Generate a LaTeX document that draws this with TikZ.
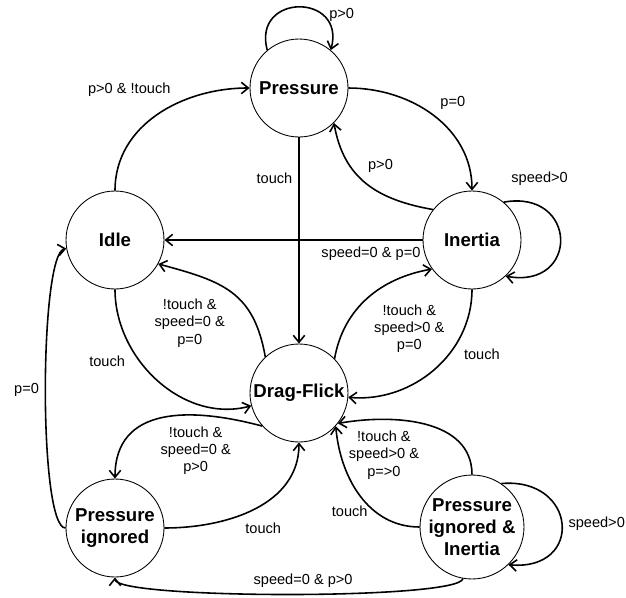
\documentclass[tikz,border=0pt]{standalone}
\usepackage{fontspec}
\setmainfont{Liberation Sans}
\usetikzlibrary{automata}
\usetikzlibrary{positioning}
\usetikzlibrary{arrows.meta}
\tikzset{node distance=3.05cm,
    every node/.style={
        font=\fontsize{8.3}{9.8}\selectfont,
        align=center},
    every state/.style={
        line width=0.5pt,
        fill=white,
        minimum size=1.96cm,
        inner sep=0pt,
        font=\fontsize{10.6}{12.5}\selectfont\bfseries},
    every edge/.style={
        draw,
        ->,>={Straight Barb[length=4pt,width=6.5pt]},
        auto,
        line width=0.9pt}}

\begin{document}
\begin{tikzpicture}
        \useasboundingbox (0,0) rectangle (12.52,-11.94);

        \node[state] (pressure) at (5.98,-1.76) {Pressure};
        \node[state,node distance=6.1cm,below of=pressure] (dragflick) {Drag-Flick};
        \node[state,node distance=3.68cm,left of=pressure,yshift=-3.04cm] (idle) {Idle};
        \node[state,node distance=3.46cm,right of=pressure,yshift=-3.04cm] (inertia) {Inertia};
        \node[state,node distance=5.76cm,below of=idle] (ignored) {Pressure\\ignored};
        \node[state,node distance=5.74cm,below of=inertia] (ignoredinertia) {Pressure\\ignored \&\\Inertia};

        \draw (pressure.130) edge[out=105,in=75,looseness=2.4] node[pos=0.72,right] {p>0} (pressure.50);
        \draw (idle) edge[out=90,in=180] node[pos=0.62] {p>0 \& !touch} (pressure);
        \draw (pressure) edge[out=0,in=90] node {p=0} (inertia);
        \draw (inertia.142) edge[out=170,in=-80,looseness=1.1] node[pos=0.55,swap] {p>0} (pressure.-45);
        \draw (inertia.50) edge[out=10,in=-10,looseness=2.6] node[pos=0.2,above=8pt] {speed>0} (inertia.-47);
        \draw (inertia) edge node[pos=0.2] {speed=0 \& p=0} (idle);
        \draw (pressure) edge node[pos=0.2,swap] {touch} (dragflick);

        \draw (dragflick.133) edge[out=100,in=-15,looseness=1.2] node {!touch \&\\speed=0 \&\\p=0} (idle.-29);
        \draw (idle) edge[out=-90,in=195] node[pos=0.3,swap] {touch} (dragflick);
        \draw (dragflick.44) edge[out=80,in=190] node[swap] {!touch \&\\speed>0 \&\\p=0} (inertia.216);
        \draw (inertia) edge[out=-90,in=-5] node[pos=0.3] {touch} (dragflick);

        \draw (dragflick.222) edge[out=165,in=90,looseness=1.2] node[pos=0.55] {!touch \&\\speed=0 \&\\p>0} (ignored);
        \draw (ignored) edge[out=0,in=-90] node[pos=0.4,swap] {touch} (dragflick);
        \draw (ignoredinertia) edge[out=180,in=-85] node[pos=0.35,left] {touch} (dragflick.-42);
        \draw (ignoredinertia) edge[out=90,in=10] node {!touch \&\\speed>0 \&\\p=>0} (dragflick.-38);
        \draw (ignoredinertia.56) edge[out=5,in=-5,looseness=2.4] node[right] {speed>0} (ignoredinertia.-46);

        \draw (ignoredinertia) edge[out=-100,in=-90,looseness=0.16] node[pos=0.47,swap] {speed=0 \& p>0} (ignored);
        \draw (ignored) edge[out=180,in=190,looseness=0.25] node {p=0} (idle);
\end{tikzpicture}
\end{document}
